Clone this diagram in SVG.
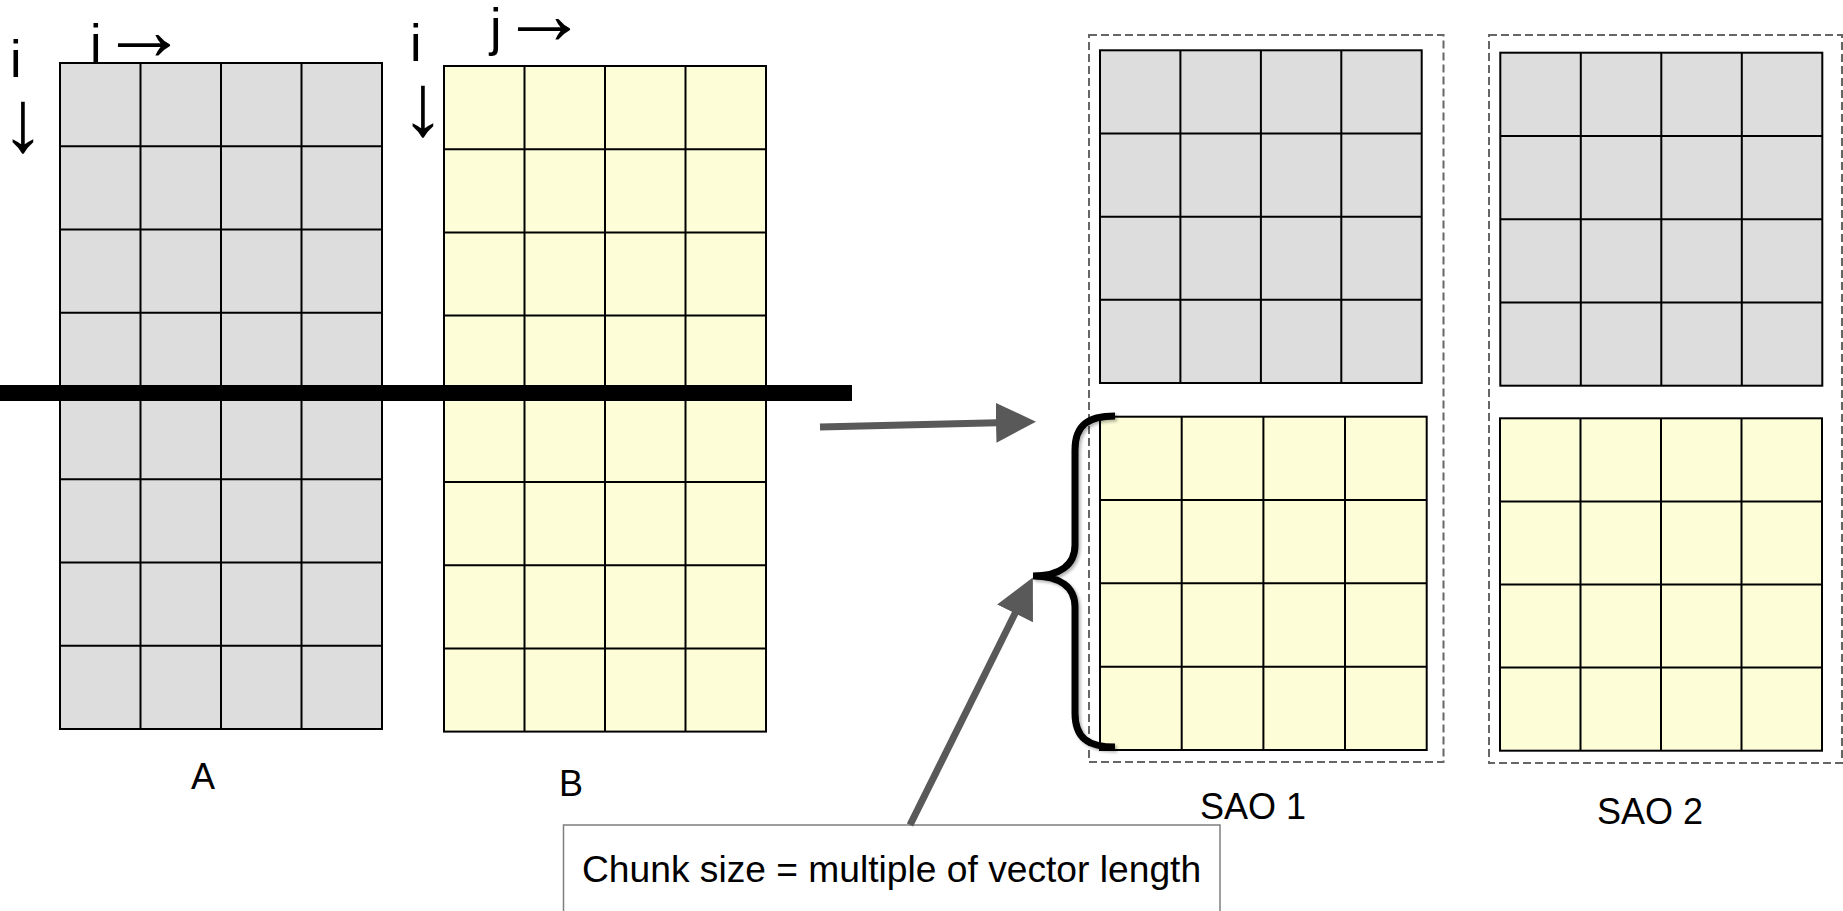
<svg xmlns="http://www.w3.org/2000/svg" width="1843" height="911" viewBox="0 0 1843 911">
<defs>
<style>
.gray{fill:#DDDDDD;stroke:#000;stroke-width:2}
.yel{fill:#FDFDD8;stroke:#000;stroke-width:2}
.gl{fill:none;stroke:#000;stroke-width:2}
.dash{fill:none;stroke:#666;stroke-width:2;stroke-dasharray:8 4}
.lbl{font-family:"Liberation Sans",Arial,sans-serif;font-size:36px;fill:#000}
.idx{font-family:"Liberation Sans",Arial,sans-serif;font-size:52px;fill:#000}
.arr{font-size:88px}
.conn{fill:none;stroke:#595959;stroke-width:7}
</style>
<marker id="head" markerUnits="userSpaceOnUse" markerWidth="40" markerHeight="40" viewBox="0 0 40 40" refX="1" refY="20" orient="auto">
<path d="M0,0 L40,20 L0,40 Z" fill="#595959"/>
</marker>
<filter id="sh" x="-20%" y="-20%" width="140%" height="140%">
<feDropShadow dx="2" dy="2" stdDeviation="1.5" flood-color="#000" flood-opacity="0.3"/>
</filter>
</defs>
<rect width="1843" height="911" fill="#fff"/>

<g id="index-labels-A">
<text class="idx" x="10" y="77">i<tspan class="arr" x="23" y="151" text-anchor="middle">↓</tspan></text>
<text class="idx" x="90" y="61">j<tspan class="arr" x="100" dy="-1">→</tspan></text>
</g>
<g id="index-labels-B" transform="translate(400,-16)">
<text class="idx" x="10" y="77">i<tspan class="arr" x="23" y="151" text-anchor="middle">↓</tspan></text>
<text class="idx" x="90" y="61">j<tspan class="arr" x="100" dy="-1">→</tspan></text>
</g>

<g id="matrix-A">
<rect class="gray" x="60" y="63" width="322" height="666"/>
<path class="gl" d="M140.5,63V729M221,63V729M301.5,63V729M60,146.2H382M60,229.5H382M60,312.7H382M60,396H382M60,479.2H382M60,562.5H382M60,645.7H382"/>
<text class="lbl" x="203" y="789" text-anchor="middle">A</text>
</g>

<g id="matrix-B">
<rect class="yel" x="444" y="66" width="322" height="665.6"/>
<path class="gl" d="M524.5,66V731.6M605,66V731.6M685.5,66V731.6M444,149.2H766M444,232.4H766M444,315.6H766M444,398.8H766M444,482H766M444,565.2H766M444,648.4H766"/>
<text class="lbl" x="571" y="796" text-anchor="middle">B</text>
</g>

<g id="cut-bar">
<rect x="0" y="385" width="852" height="16" fill="#000"/>
</g>

<g id="sao1">
<rect class="dash" x="1089" y="35" width="354.5" height="727"/>
<rect class="gray" x="1100" y="50.3" width="321.7" height="332.7"/>
<path class="gl" d="M1180.4,50.3V383M1260.9,50.3V383M1341.3,50.3V383M1100,133.5H1421.7M1100,216.7H1421.7M1100,299.8H1421.7"/>
<rect class="yel" x="1100" y="416.7" width="326.7" height="333.3"/>
<path class="gl" d="M1181.7,416.7V750M1263.4,416.7V750M1345,416.7V750M1100,500H1426.7M1100,583.3H1426.7M1100,666.7H1426.7"/>
<text class="lbl" x="1253" y="819" text-anchor="middle">SAO 1</text>
</g>

<g id="sao2">
<rect class="dash" x="1489" y="35" width="353" height="728"/>
<rect class="gray" x="1500.3" y="52.7" width="322" height="333"/>
<path class="gl" d="M1580.8,52.7V385.7M1661.3,52.7V385.7M1741.8,52.7V385.7M1500.3,136H1822.3M1500.3,219.2H1822.3M1500.3,302.5H1822.3"/>
<rect class="yel" x="1500" y="418.3" width="322" height="332.4"/>
<path class="gl" d="M1580.5,418.3V750.7M1661,418.3V750.7M1741.5,418.3V750.7M1500,501.4H1822M1500,584.5H1822M1500,667.6H1822"/>
<text class="lbl" x="1650" y="824" text-anchor="middle">SAO 2</text>
</g>

<g id="brace">
<path d="M1115,416 C1088,416 1075,425 1075,450 L1075,545 C1075,565 1060,576 1033,576 C1060,576 1075,587 1075,607 L1075,713 C1075,738 1088,747 1115,747" fill="none" stroke="#000" stroke-width="7" filter="url(#sh)"/>
</g>

<g id="note">
<rect x="563.5" y="825" width="656.5" height="100" fill="#fff" stroke="#7f7f7f" stroke-width="1.5"/>
<text class="lbl" x="582" y="882" style="font-size:37.2px">Chunk size = multiple of vector length</text>
</g>

<g id="connectors">
<path class="conn" d="M820,427 L997,422.7" marker-end="url(#head)"/>
<path class="conn" d="M910,825 L1015.5,612.5" marker-end="url(#head)"/>
</g>
</svg>
